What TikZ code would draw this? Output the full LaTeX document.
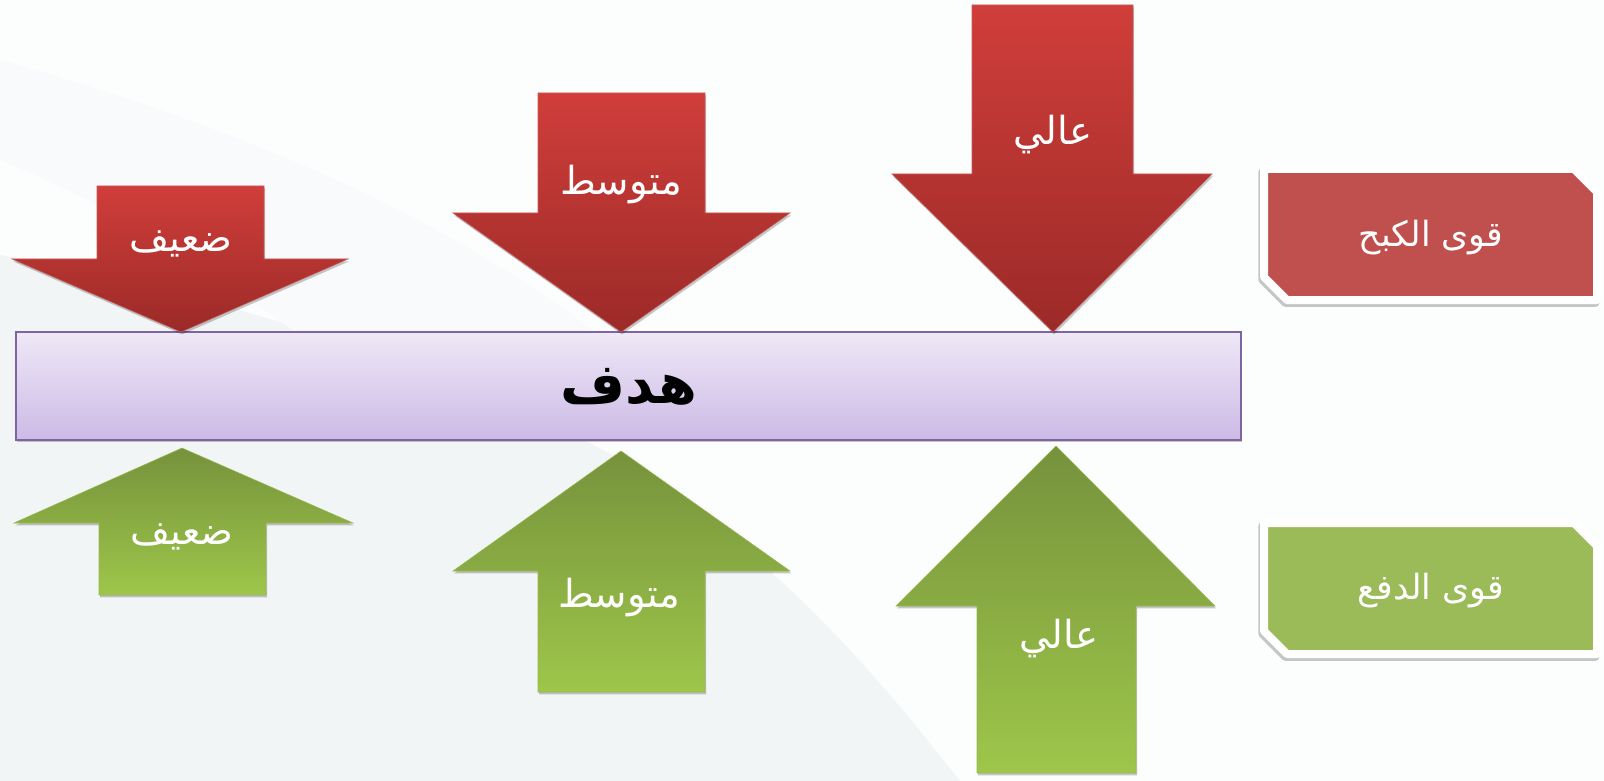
\documentclass[tikz,border=0pt]{standalone}
\usepackage{fontspec}
\TeXXeTstate=1
\newfontfamily\arabicfont[Script=Arabic]{DejaVu Sans}

\definecolor{redtop}{RGB}{208,62,58}
\definecolor{redbot}{RGB}{155,42,40}
\definecolor{greentop}{RGB}{118,146,60}
\definecolor{greenbot}{RGB}{158,198,74}
\definecolor{goaltop}{RGB}{238,232,246}
\definecolor{goalbot}{RGB}{204,186,230}
\definecolor{goalline}{RGB}{128,100,162}
\definecolor{tagred}{RGB}{192,80,77}
\definecolor{taggreen}{RGB}{155,187,89}
\definecolor{swoosh}{RGB}{242,245,246}

% shape with its shadow underneath
\newcommand{\forceshape}[3]{\path[#1] #3; \path[#2] #3;}

\tikzset{every picture/.style={line width=0.75pt},
  shapeshadow/.style={fill=black, opacity=0.22, transform canvas={xshift=0.8pt, yshift=-1.8pt}},
  tagshadow/.style={draw=black, line width=6pt, line join=round, opacity=0.22, transform canvas={xshift=-1.2pt, yshift=-2.2pt}},
  redarrow/.style={draw={rgb,255:red,200;green,90;blue,88}, line width=0.4pt, top color=redtop, bottom color=redbot},
  greenarrow/.style={draw={rgb,255:red,150;green,185;blue,80}, line width=0.4pt, top color=greentop, bottom color=greenbot},
  goalbox/.style={draw=goalline, line width=0.9pt, top color=goaltop, bottom color=goalbot},
  tagbox/.style={draw=white, line width=6pt, line join=round},
  armtext/.style={text=white, inner sep=0pt, font=\arabicfont\fontsize{29}{34}\selectfont},
  tagtext/.style={text=white, inner sep=0pt, font=\arabicfont\fontsize{26}{31}\selectfont},
}

\begin{document}
\begin{tikzpicture}[x=0.75pt,y=0.75pt,yscale=-1,xscale=1]
\useasboundingbox (0,0) rectangle (1604,781);

%Background
\fill [color={rgb, 255:red, 252; green, 253; blue, 253 }] (0,0) rectangle (1604,781);
\fill [color=swoosh] (0,255) .. controls (250,300) and (480,380) .. (640,470) .. controls (790,570) and (880,680) .. (960,781) -- (0,781) -- cycle;
\fill [color={rgb, 255:red, 249; green, 250; blue, 251 }] (0,60) .. controls (250,130) and (450,220) .. (600,336) -- (300,336) .. controls (200,260) and (100,200) .. (0,160) -- cycle;

%Goal bar
\forceshape{shapeshadow}{goalbox}{(16,332) rectangle (1241,440)}

%Down Arrow: weak
\forceshape{shapeshadow}{redarrow}{(97,186) -- (264,186) -- (264,259) -- (348,259) -- (181,332) -- (12,259) -- (97,259) -- cycle}
%Down Arrow: medium
\forceshape{shapeshadow}{redarrow}{(538,93) -- (705,93) -- (705,213) -- (790,213) -- (621,332) -- (453,213) -- (538,213) -- cycle}
%Down Arrow: high
\forceshape{shapeshadow}{redarrow}{(972,5) -- (1133,5) -- (1133,174) -- (1212,174) -- (1053,332) -- (892,174) -- (972,174) -- cycle}

%Up Arrow: weak
\forceshape{shapeshadow}{greenarrow}{(182,448) -- (353,523) -- (266,523) -- (266,595) -- (99,595) -- (99,523) -- (14,523) -- cycle}
%Up Arrow: medium
\forceshape{shapeshadow}{greenarrow}{(621,451) -- (790,571) -- (705,571) -- (705,692) -- (538,692) -- (538,571) -- (453,571) -- cycle}
%Up Arrow: high
\forceshape{shapeshadow}{greenarrow}{(1056,446) -- (1215,606) -- (1136,606) -- (1136,773) -- (977,773) -- (977,606) -- (896,606) -- cycle}

%Tag: restraining
\forceshape{tagshadow}{tagbox, fill=tagred}{(1264,169) -- (1574,169) -- (1597,192) -- (1597,300) -- (1287,300) -- (1264,277) -- cycle}
%Tag: driving
\forceshape{tagshadow}{tagbox, fill=taggreen}{(1264,523) -- (1574,523) -- (1597,546) -- (1597,654) -- (1287,654) -- (1264,631) -- cycle}

% Text Node
\node [armtext] (redweak) at (181,244) {\beginR ضعيف\endR};
% Text Node
\node [armtext] (redmid) at (621,185) {\beginR متوسط\endR};
% Text Node
\node [armtext] (redhigh) at (1053,135) {\beginR عالي\endR};
% Text Node
\node [text=black, inner sep=0pt, font=\arabicfont\bfseries\fontsize{42}{48}\selectfont] (goal) at (629,387) {\beginR هدف\endR};
% Text Node
\node [armtext] (greenweak) at (182,537) {\beginR ضعيف\endR};
% Text Node
\node [armtext] (greenmid) at (619,598) {\beginR متوسط\endR};
% Text Node
\node [armtext] (greenhigh) at (1059,639) {\beginR عالي\endR};
% Text Node
\node [tagtext] (tagrestrain) at (1431,238) {\beginR قوى الكبح\endR};
% Text Node
\node [tagtext] (tagdrive) at (1431,591) {\beginR قوى الدفع\endR};

\end{tikzpicture}
\end{document}
